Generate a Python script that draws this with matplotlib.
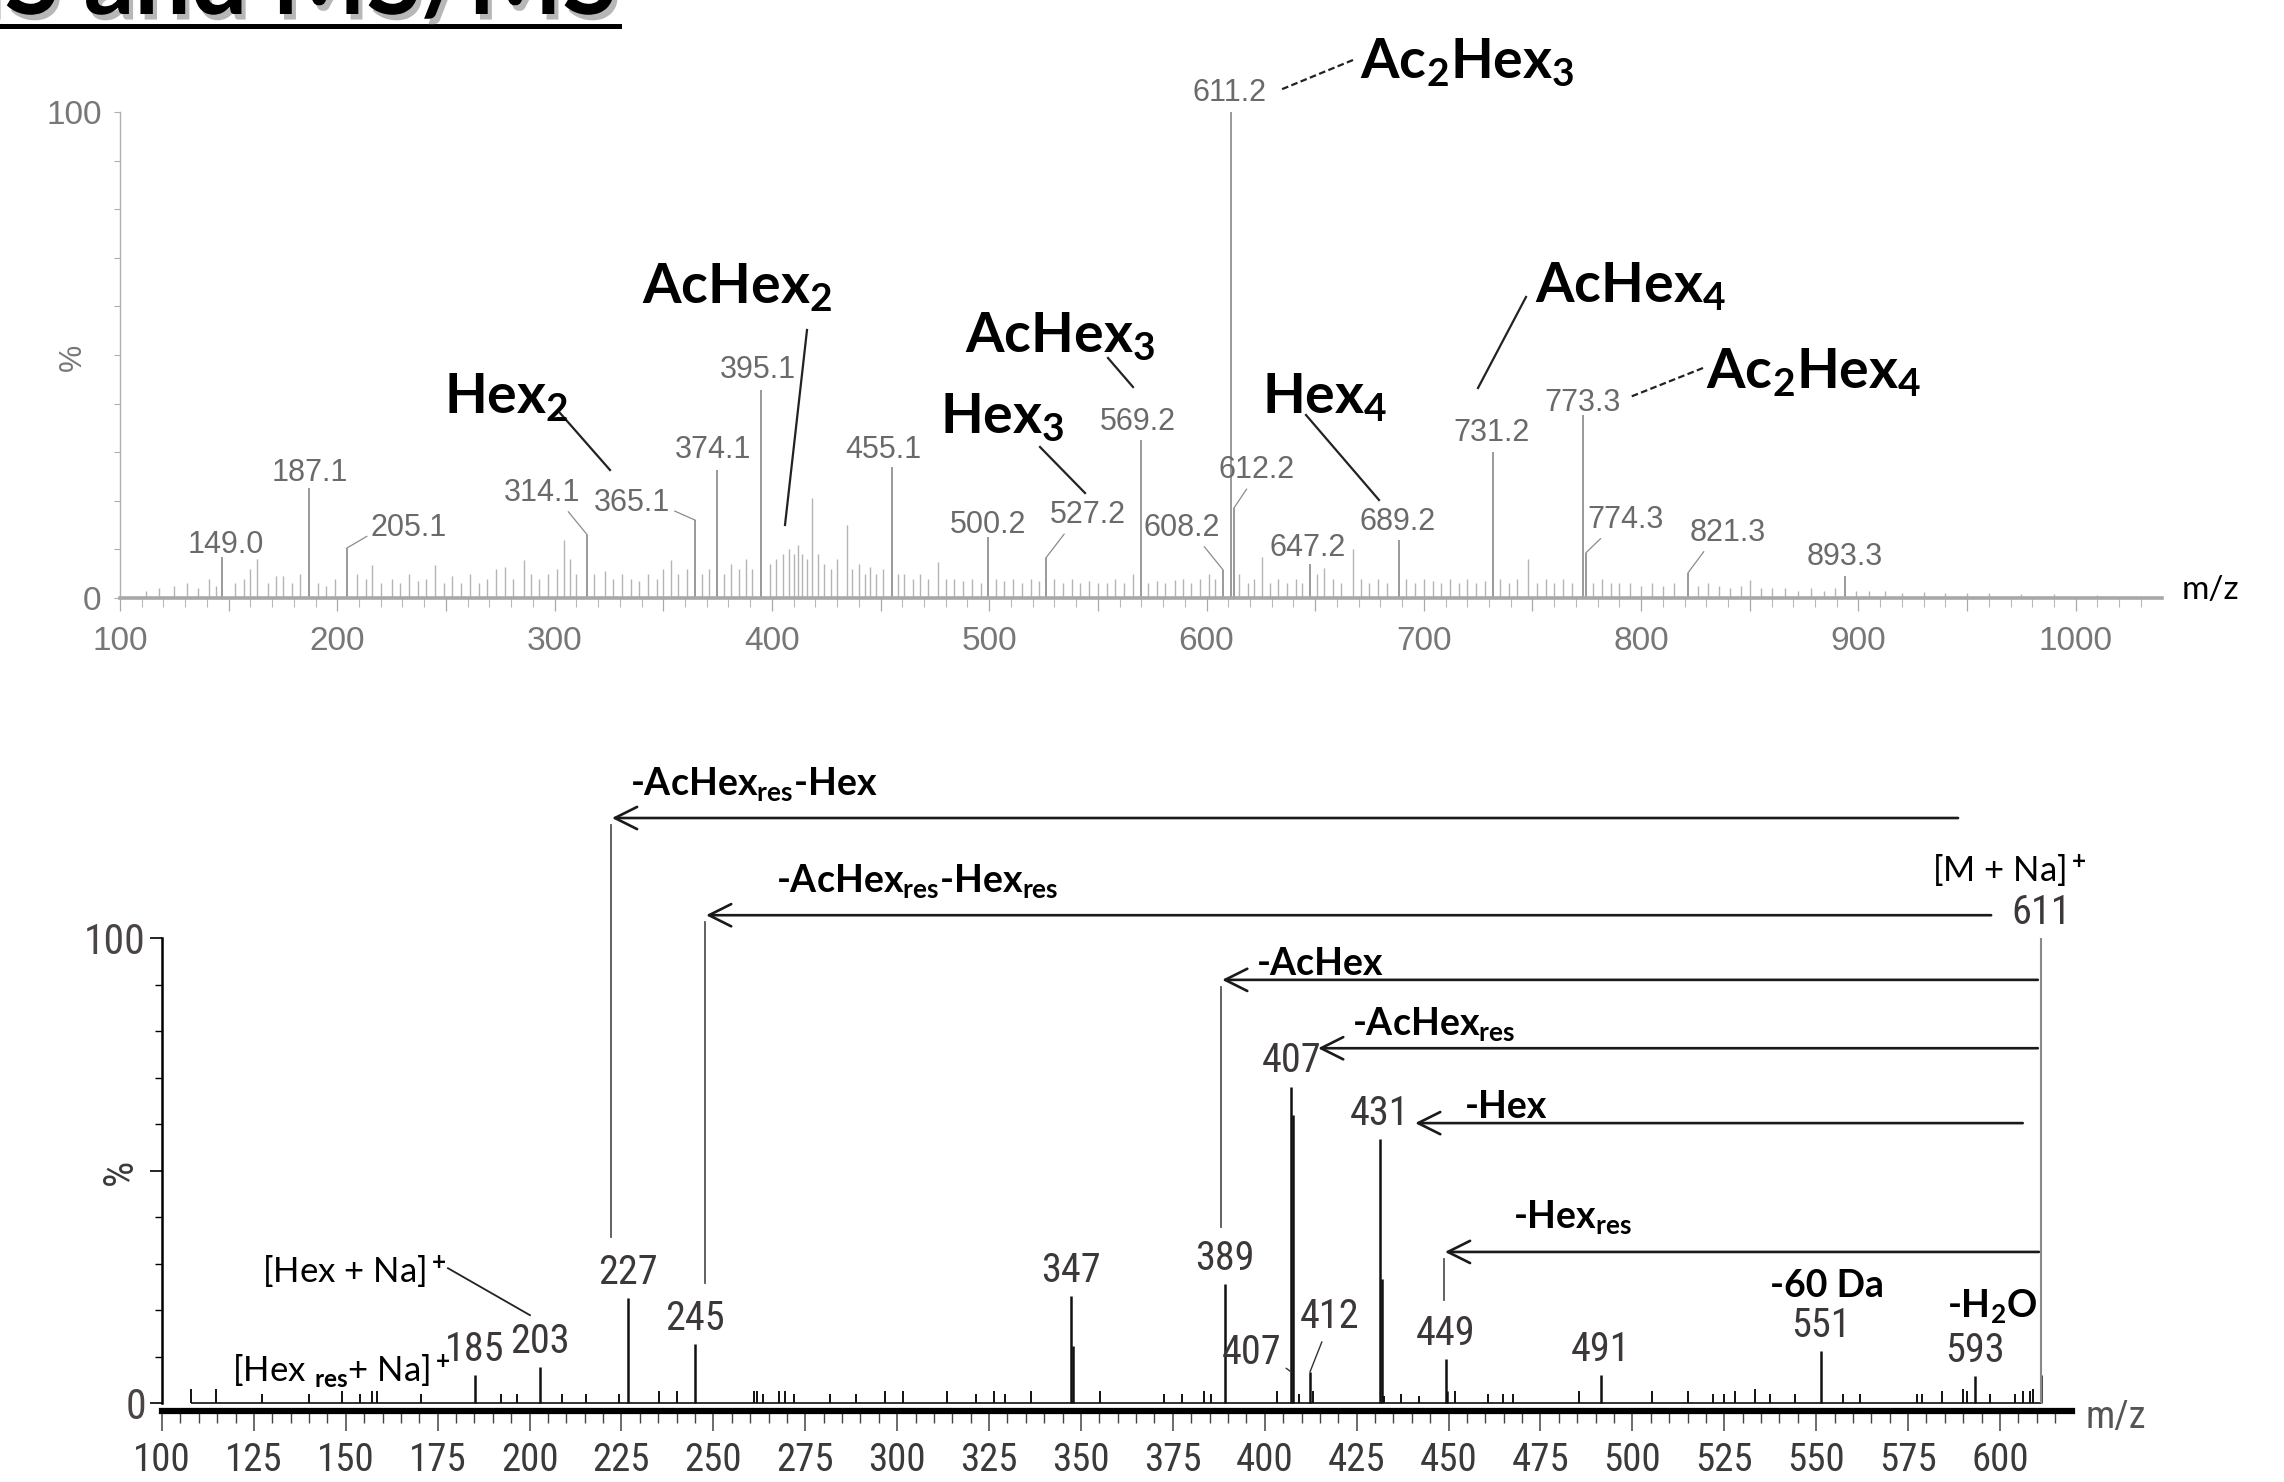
import matplotlib
matplotlib.use("Agg")
import matplotlib.pyplot as plt
import matplotlib.patheffects as pe
from matplotlib import font_manager as fm
from matplotlib.font_manager import FontProperties
from matplotlib.lines import Line2D
from matplotlib.patches import FancyArrowPatch
from matplotlib.ticker import FuncFormatter, MultipleLocator

W, H = 2284, 1482

plt.rcParams.update({
    "mathtext.fontset": "custom",
    "mathtext.rm": "Lato:bold",
    "mathtext.it": "Lato:bold",
    "mathtext.bf": "Lato:bold",
    "mathtext.sf": "Lato:bold",
})
ARIAL = ["Liberation Sans", "DejaVu Sans"]


def _narrow_file():
    """Find an installed narrow/condensed regular sans face, if there is one."""
    prefs = ["Liberation Sans Narrow", "Arial Narrow", "Roboto Condensed",
             "Open Sans Condensed", "Noto Sans Condensed", "DejaVu Sans Condensed"]
    fonts = [f for f in fm.fontManager.ttflist
             if f.style == "normal" and f.weight in (400, "normal", "regular")]
    for name in prefs:
        for f in fonts:
            if f.name == name:
                return f.fname
    for f in fonts:
        low = f.fname.lower()
        if "sans" in low and ("condensed" in low or "narrow" in low) \
                and "extra" not in low and "semi" not in low:
            return f.fname
    return None


_NARROW_PATH = _narrow_file()
_NARROW_SCALE = 1.0 if _NARROW_PATH else 0.82


def narrow(size):
    if _NARROW_PATH:
        fp = FontProperties(fname=_NARROW_PATH)
    else:
        fp = FontProperties(family=ARIAL)
    fp.set_size(size * _NARROW_SCALE)
    return fp


# ---------------- MS (top) ----------------
ms1_mz = [147.0, 187.1, 204.5, 315.0, 364.8, 374.6, 395.0, 455.3, 499.5, 526.0, 569.8,
          607.6, 611.3, 612.6, 647.5, 688.5, 731.8, 773.3, 774.6, 821.6, 893.6]
ms1_int = [8.5, 22.6, 10.3, 13.0, 16.0, 26.3, 42.8, 27.0, 12.5, 8.2, 32.5,
           5.8, 100.0, 18.5, 7.0, 12.0, 30.0, 37.6, 9.3, 5.2, 4.5]
ms1_lbl = ["149.0", "187.1", "205.1", "314.1", "365.1", "374.1", "395.1", "455.1", "500.2",
           "527.2", "569.2", "608.2", "611.2", "612.2", "647.2", "689.2", "731.2", "773.3",
           "774.3", "821.3", "893.3"]

# small background peaks of the MS scan
ms1_noise_mz = [112, 118, 125, 131, 136, 141, 144, 153, 157, 160, 163, 168, 172, 175, 179, 183,
                191, 195, 199, 209, 213, 216, 220, 225, 229, 233, 237, 241, 245, 249, 253, 257,
                261, 265, 269, 273, 277, 281, 286, 289, 293, 297, 301, 304.5, 307, 310, 318, 323,
                327, 331, 335, 339, 343, 347, 350, 353.5, 357, 361, 368, 371, 378, 381, 385, 388,
                391, 399, 402, 405, 408, 410, 412, 414, 416, 418.5, 421, 424, 427, 430, 434.5,
                437, 440, 443, 445, 448, 451, 458, 461, 465, 468, 472, 476.4, 480, 484, 488, 492,
                496, 503, 507, 511, 515, 519, 523, 530, 534, 538, 542, 546, 550, 554, 558, 562,
                566, 573, 577, 581, 585.5, 589, 593, 597, 601, 604, 615, 619, 622, 625.5, 629,
                633, 637, 641, 644, 651, 654, 658, 662, 667.4, 671, 675, 679, 683, 692, 696, 700,
                704, 708, 712, 716, 720, 724, 728, 735, 739, 743, 748, 752, 756, 760, 764, 768,
                778, 782, 786, 790, 795, 800, 805, 810, 815, 826, 831, 836, 841, 846, 850, 855,
                860, 866, 872, 878, 884, 889, 899, 905, 912, 920, 930, 940, 950, 960, 975, 990,
                1010, 1030]
ms1_noise_int = [1.5, 2, 2.5, 3, 2, 4, 2.5, 3, 4, 6, 8, 3, 4.5, 4.5, 3, 5,
                 3, 2.5, 4, 5, 4, 6.8, 3, 4, 3, 5, 3.5, 4, 6.8, 3, 4.5, 3,
                 5, 3, 4, 6, 6.4, 4, 7.8, 5, 4, 5, 6, 12, 8, 5, 5, 5.6,
                 4, 5, 4, 3.5, 5, 4, 6, 7.8, 5, 6, 5, 6, 5, 7, 6, 8,
                 6, 7, 8, 9, 10, 9, 11, 9, 8, 20.5, 9, 7, 6, 8, 15,
                 6, 7, 5, 6.4, 5, 6, 5, 5, 4, 5, 4, 7.5, 4, 4, 3.5, 4,
                 3, 4, 3.5, 4, 3, 4, 3.5, 4, 3, 4, 3, 3.5, 3, 3, 4, 3,
                 5, 3, 3.5, 3, 3.7, 4, 3, 4, 5, 4, 5, 3, 4, 8.4, 3,
                 4, 3, 4, 3, 5, 6.2, 4, 3, 10, 4, 3, 4, 3, 4, 3, 4,
                 3.5, 3, 4, 3, 4, 3, 3.5, 4, 3, 4, 8, 3, 4, 3, 4, 3,
                 3, 4, 3, 3, 3, 2.5, 3, 2.5, 3, 2.5, 3, 2.5, 2, 2.5, 3.8, 2,
                 2, 2, 1.5, 2, 1.5, 2, 1.5, 1.5, 1.5, 1, 1.2, 1, 1, 1, 0.8, 0.8,
                 0.6, 0.5]

# ---------------- MS/MS of m/z 611 (bottom) ----------------
ms2_mz = [185.1, 202.8, 226.8, 245.1, 347.3, 347.8, 389.1, 407.2, 407.7, 412.3, 431.3,
          431.8, 449.2, 449.7, 491.5, 551.3, 593.2, 611.3]
ms2_int = [6.0, 7.7, 22.5, 12.7, 23.0, 12.2, 25.5, 68.0, 62.0, 6.7, 56.7,
           26.6, 9.4, 2.6, 6.0, 11.2, 5.8, 6.0]
ms2_lbl = ["185", "203", "227", "245", "347", "", "389", "407", "", "412", "431",
           "", "449", "", "491", "551", "593", ""]
precursor_mz, precursor_int, precursor_lbl = 611.3, 100.0, "611"

ms2_noise_mz = [107.8, 114.6, 127.3, 140.1, 149.0, 154.0, 157.0, 158.6, 170.4, 192.2, 196.6,
                208.9, 215.4, 224.3, 235.2, 240.2, 261.0, 262.0, 263.6, 267.9, 269.5, 271.9,
                281.8, 288.7, 296.7, 301.6, 313.5, 321.4, 326.4, 329.3, 336.3, 355.1, 372.5,
                377.5, 383.4, 385.4, 403.3, 409.2, 413.2, 432.5, 437.0, 442.0, 451.8, 460.7,
                464.7, 467.6, 485.5, 505.3, 515.2, 522.0, 524.8, 527.9, 533.4, 537.5, 544.3,
                557.4, 561.9, 577.4, 578.7, 584.2, 590.0, 591.0, 597.3, 604.1, 606.4, 608.2,
                609.1]
ms2_noise_int = [3.0, 3.0, 2.0, 2.0, 2.5, 2.0, 2.5, 2.5, 2.0, 2.0, 2.0,
                 2.0, 2.0, 2.0, 2.5, 2.5, 2.5, 2.5, 2.0, 2.5, 2.5, 2.0,
                 2.0, 2.0, 2.5, 2.5, 2.5, 2.0, 2.5, 2.0, 2.5, 2.5, 2.0,
                 2.0, 2.5, 2.0, 2.5, 2.0, 2.5, 1.5, 2.0, 1.5, 2.5, 2.0,
                 2.0, 2.0, 2.5, 2.5, 2.5, 2.0, 2.0, 2.5, 3.0, 2.0, 2.0,
                 2.0, 2.0, 2.0, 2.0, 2.5, 3.0, 2.5, 2.0, 2.0, 2.5, 2.5,
                 3.0]

# neutral-loss arrows: label, tip m/z, level (%), start m/z, guide bottom (%)
losses = [
    ("-AcHex$_{res}$-Hex", 222.4, 125.8, 588.6, 35.7),
    ("-AcHex$_{res}$-Hex$_{res}$", 248.0, 104.9, 597.6, 25.8),
    ("-AcHex", 388.4, 91.0, 610.3, 37.8),
    ("-AcHex$_{res}$", 414.5, 76.3, 610.3, None),
    ("-Hex", 440.9, 60.2, 606.2, None),
    ("-Hex$_{res}$", 449.0, 32.5, 610.6, 22.2),
]


def frac(x0, y0, x1, y1):
    return [x0 / W, 1 - y1 / H, (x1 - x0) / W, (y1 - y0) / H]


def fxy(x, y):
    return x / W, 1 - y / H


fig = plt.figure(figsize=(W / 100, H / 100), dpi=100)
fig.patch.set_facecolor("white")

# title (partly cut off at the top edge)
shadow = [pe.withSimplePatchShadow(offset=(3, -4), shadow_rgbFace="#888888", alpha=0.6)]
fig.text(*fxy(617, 14), "MS and MS/MS", fontsize=72, fontweight="bold", family="Lato",
         ha="right", va="baseline", path_effects=shadow)
fig.add_artist(Line2D([0, 619 / W], [1 - 26 / H] * 2, lw=3.6, color="black",
                      path_effects=shadow))

# ---------------- top panel ----------------
ax1 = fig.add_axes(frac(120, 112, 2162, 598))
ax1.vlines(ms1_noise_mz, 0, ms1_noise_int, color="#b4b4b4", lw=1.0)
ax1.vlines(ms1_mz, 0, ms1_int, color="#9a9a9a", lw=1.4)
ax1.set_xlim(100, 1039.7)
ax1.set_ylim(0, 100)
for s in ("top", "right"):
    ax1.spines[s].set_visible(False)
ax1.spines["left"].set_color("#b0b0b0")
ax1.spines["left"].set_linewidth(1.0)
ax1.spines["bottom"].set_color("#a8a8a8")
ax1.spines["bottom"].set_linewidth(2.6)
ax1.xaxis.set_major_locator(MultipleLocator(50))
ax1.xaxis.set_minor_locator(MultipleLocator(10))
ax1.xaxis.set_major_formatter(FuncFormatter(lambda v, p: f"{v:.0f}" if v % 100 == 0 else ""))
ax1.set_yticks([0, 100])
ax1.yaxis.set_minor_locator(MultipleLocator(10))
ax1.tick_params(axis="x", which="major", length=9.4, width=0.9, color="#aaaaaa",
                labelsize=24, labelcolor="#777777", pad=11)
ax1.tick_params(axis="x", which="minor", length=6.5, width=0.8, color="#b8b8b8")
ax1.tick_params(axis="y", which="both", length=4.3, width=0.8, color="#b0b0b0",
                labelsize=24, labelcolor="#777777", pad=9)
for t in ax1.get_xticklabels() + ax1.get_yticklabels():
    t.set_family(ARIAL)
fig.text(*fxy(73, 357), "%", rotation=90, ha="center", va="center", fontsize=22,
         color="#777777", family=ARIAL)
fig.text(*fxy(2182, 590), "m/z", ha="left", va="center", fontsize=24, family="Lato")

# peak labels: (dx, dy) offset in pixels from the peak top, leader anchor on the label
ms1_lbl_off = [(4, 12, None), (1, 15, None), (62, 20, (0, 0.3)), (-45, 42, (0.8, 0)),
               (-63, 17, (1, 0.3)), (-4, 20, None), (-3, 20, None), (-9, 17, None),
               (0, 12, None), (42, 43, (0.23, 0)), (-3, 18, None), (-41, 42, (0.75, 0)),
               (-2, 19, None), (23, 38, (0.4, 0)), (-2, 16, None), (-1, 18, None),
               (-1, 19, None), (-1, 12, None), (40, 33, (0.22, 0)), (40, 40, (0.22, 0)),
               (0, 19, None)]
for mz, h, s, (dx, dy, rel) in zip(ms1_mz, ms1_int, ms1_lbl, ms1_lbl_off):
    kw = {}
    if rel is not None:
        kw["arrowprops"] = dict(arrowstyle="-", color="#8c8c8c", lw=0.9,
                                shrinkA=1, shrinkB=0, relpos=rel)
    ax1.annotate(s, (mz, h), xytext=(dx, dy), textcoords="offset pixels", ha="center",
                 va="center", fontsize=22, color="#6a6a6a", family=ARIAL, **kw)

# composition labels with their leader lines (pixel layout)
big_labels = [
    ("AcHex$_2$", (642, 303), (807, 330), (785, 525), "-"),
    ("Hex$_2$", (444, 413), (560, 413), (610, 470), "-"),
    ("AcHex$_3$", (965, 352), (1108, 358), (1133, 387), "-"),
    ("Hex$_3$", (940, 433), (1040, 447), (1085, 493), "-"),
    ("Hex$_4$", (1262, 413), (1306, 415), (1379, 500), "-"),
    ("AcHex$_4$", (1535, 302), (1526, 297), (1478, 388), "-"),
    ("Ac$_2$Hex$_4$", (1706, 388), (1703, 368), (1630, 397), (0, (3, 1.5))),
    ("Ac$_2$Hex$_3$", (1360, 78), (1353, 60), (1280, 90), (0, (3, 1.5))),
]
for s, (x, y), p0, p1, ls in big_labels:
    fig.text(*fxy(x, y), s, fontsize=40, fontweight="bold", family="Lato",
             ha="left", va="baseline")
    (x0, y0), (x1, y1) = fxy(*p0), fxy(*p1)
    fig.add_artist(Line2D([x0, x1], [y0, y1], color="#222222", lw=1.6, ls=ls))

# ---------------- bottom panel ----------------
ax2 = fig.add_axes(frac(162, 938, 2072, 1411))
ax2.vlines(ms2_noise_mz, 0, ms2_noise_int, color="#111111", lw=1.4)
ax2.hlines(0, ms2_noise_mz[0], precursor_mz, color="#111111", lw=1.2)
ax2.vlines(ms2_mz, 0, ms2_int, color="#111111", lw=1.8)
ax2.vlines(precursor_mz, 0, precursor_int, color="#8a8a8a", lw=1.5)
ax2.set_xlim(100, 619.6)
ax2.set_ylim(-1.7, 100)
for s in ("top", "right"):
    ax2.spines[s].set_visible(False)
ax2.spines["left"].set_linewidth(1.8)
ax2.spines["left"].set_bounds(0, 100)
ax2.spines["bottom"].set_linewidth(4.5)
ax2.xaxis.set_major_locator(MultipleLocator(25))
ax2.xaxis.set_minor_locator(MultipleLocator(5))
ax2.set_yticks([0, 50, 100])
ax2.set_yticklabels(["0", "", "100"])
ax2.yaxis.set_minor_locator(MultipleLocator(10))
ax2.tick_params(axis="x", which="major", length=14.4, width=1.1, color="#444444",
                labelcolor="#3a3a3a", pad=8)
ax2.tick_params(axis="x", which="minor", length=8.6, width=1.0, color="#444444")
ax2.tick_params(axis="y", which="major", length=8.6, width=1.2, labelcolor="#4a4444", pad=3)
ax2.tick_params(axis="y", which="minor", length=5, width=1.0)
for t in ax2.get_xticklabels():
    t.set_fontproperties(narrow(28))
for t in ax2.get_yticklabels():
    t.set_fontproperties(narrow(30))
fig.text(*fxy(120, 1172), "%", rotation=90, ha="center", va="center",
         color="#3a3a3a", fontproperties=narrow(30))
fig.text(*fxy(2085, 1417), "m/z", ha="left", va="center",
         color="#555555", fontproperties=narrow(28))

num_style = dict(textcoords="offset pixels", ha="center", va="center",
                 color="#3d3838", fontproperties=narrow(29))
for mz, h, s in zip(ms2_mz, ms2_int, ms2_lbl):
    if not s:
        continue
    if s == "412":
        ax2.annotate(s, (mz, h), xytext=(20, 55), arrowprops=dict(
            arrowstyle="-", color="#333333", lw=1.0, shrinkA=2, shrinkB=0, relpos=(0.4, 0)),
            **num_style)
    else:
        ax2.annotate(s, (mz, h), xytext=(0, 26), **num_style)
ax2.annotate(precursor_lbl, (precursor_mz, precursor_int), xytext=(0, 26), **num_style)
ax2.annotate("407", (ms2_mz[7], 6.7), xytext=(-40, 19), arrowprops=dict(
    arrowstyle="-", color="#333333", lw=1.0, shrinkA=2, shrinkB=0, relpos=(1, 0.2)),
    **num_style)

for s, tip, lvl, start, guide in losses:
    arr = FancyArrowPatch((start, lvl), (tip, lvl), arrowstyle="->,head_length=16,head_width=8",
                          mutation_scale=1, lw=1.9, color="#1a1a1a", shrinkA=0, shrinkB=0)
    arr.set_clip_on(False)
    ax2.add_patch(arr)
    if guide is not None:
        ax2.plot([tip - 0.3, tip - 0.3], [lvl - 1.5, guide], color="#555555", lw=1.3,
                 clip_on=False)

loss_text = [
    ("-AcHex$_{res}$-Hex", 227.3, 130.8),
    ("-AcHex$_{res}$-Hex$_{res}$", 267.0, 109.9),
    ("-AcHex", 397.9, 92.0),
    ("-AcHex$_{res}$", 423.7, 79.1),
    ("-Hex", 454.5, 61.3),
    ("-Hex$_{res}$", 467.5, 37.6),
    ("-60 Da", 537.4, 22.8),
    ("-H$_2$O", 585.6, 18.5),
]
for s, x, y in loss_text:
    ax2.text(x, y, s, fontsize=27, fontweight="bold", family="Lato", ha="left",
             va="baseline", clip_on=False)

ax2.text(581.5, 112.0, "[M + Na]$^+$", fontsize=25, family="Lato", ha="left", va="baseline")
ax2.text(127.2, 25.8, "[Hex + Na]$^+$", fontsize=25, family="Lato", ha="left", va="baseline")
ax2.plot([177.8, 200.1], [29.0, 18.9], color="#222222", lw=1.3)
ax2.text(119.0, 4.5, "[Hex $_{res}$+ Na]$^+$", fontsize=25, family="Lato", ha="left",
         va="baseline")

fig.savefig("out.png", dpi=100, facecolor="white")
